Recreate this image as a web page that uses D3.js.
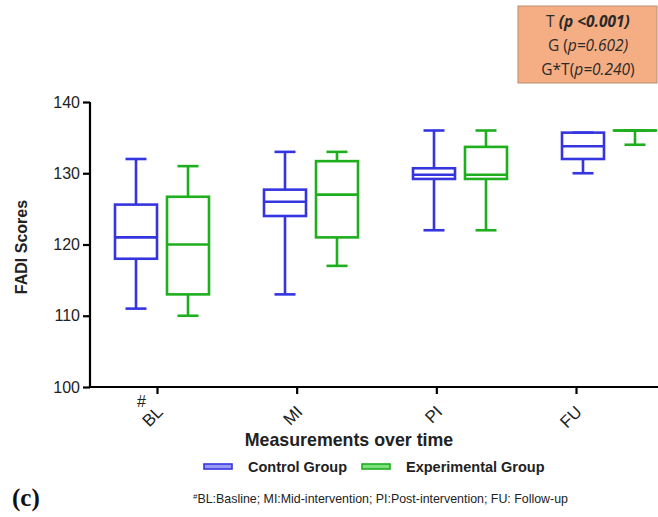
<!DOCTYPE html>
<html>
<head>
<meta charset="utf-8">
<script src="https://cdn.jsdelivr.net/npm/d3@7/dist/d3.min.js"></script>
<style>
  html, body { margin: 0; padding: 0; background: #fff; }
  svg { display: block; font-family: Arial, "Liberation Sans", sans-serif; }
</style>
</head>
<body>
<svg id="chart" width="658" height="517"></svg>
<script>
// Time points and group labels
const timepoints = ["BL", "MI", "PI", "FU"];
const groups = ["Control Group", "Experimental Group"];
const groupColors = ["#3535e0", "#1eae1e"];
const groupFills = ["#9a9af5", "#7fe07f"];

// Box summaries per time point: [min, q1, median, q3, max]
const controlStats = [
  [111, 118, 121, 125.6, 132],
  [113, 124, 126, 127.7, 133],
  [122, 129.2, 129.8, 130.7, 136],
  [130, 132, 133.8, 135.7, 135.7]
];
const experimentalStats = [
  [110, 113, 120, 126.7, 131],
  [117, 121, 127, 131.7, 133],
  [122, 129.2, 129.8, 133.7, 136],
  [134, 136, 136, 136, 136]
];
const seriesStats = [controlStats, experimentalStats];

const yTicks = [100, 110, 120, 130, 140];
const footnote = "BL:Basline; MI:Mid-intervention; PI:Post-intervention; FU: Follow-up";

const svg = d3.select("#chart");

const y = d3.scaleLinear().domain([100, 140]).range([387, 102]);
// tick positions on the time axis
const xTick = d3.scalePoint().domain(timepoints).range([157, 576]);
// centres of the box pairs
const xGroup = d3.scalePoint().domain(timepoints).range([162, 609]);
const xSub = d3.scaleBand().domain(groups).range([-52, 52]).paddingInner(0);

const boxW = 42, capW = 21;

// annotation panel with p-values
const ann = svg.append("g");
ann.append("rect").attr("x", 518).attr("y", 6).attr("width", 139).attr("height", 77)
  .attr("fill", "#f5ae84").attr("stroke", "#b88c6c").attr("stroke-width", 1);
const annFont = "'Open Sans', 'Liberation Sans', sans-serif";
const annLine = (yy) => ann.append("text").attr("x", 588).attr("y", yy).attr("text-anchor", "middle")
  .attr("font-family", annFont).attr("font-size", 15.5).attr("fill", "#2a2a2a");
const l1 = annLine(27);
l1.append("tspan").text("T ");
l1.append("tspan").attr("font-weight", "bold").attr("font-style", "italic").text("(p <0.001)");
const l2 = annLine(51);
l2.append("tspan").text("G (");
l2.append("tspan").attr("font-style", "italic").text("p=0.602)");
const l3 = annLine(75);
l3.append("tspan").text("G*T(");
l3.append("tspan").attr("font-style", "italic").text("p=0.240");
l3.append("tspan").text(")");

// boxes
groups.forEach((g, gi) => {
  const color = groupColors[gi];
  const layer = svg.append("g").attr("stroke", color).attr("fill", "none").attr("stroke-width", 2.6);
  seriesStats[gi].forEach((s, i) => {
    const cx = xGroup(timepoints[i]) + xSub(g) + xSub.bandwidth() / 2;
    const [mn, q1, md, q3, mx] = s;
    layer.append("line").attr("x1", cx).attr("x2", cx).attr("y1", y(mx)).attr("y2", y(q3));
    layer.append("line").attr("x1", cx).attr("x2", cx).attr("y1", y(q1)).attr("y2", y(mn));
    layer.append("line").attr("x1", cx - capW / 2).attr("x2", cx + capW / 2).attr("y1", y(mx)).attr("y2", y(mx));
    layer.append("line").attr("x1", cx - capW / 2).attr("x2", cx + capW / 2).attr("y1", y(mn)).attr("y2", y(mn));
    layer.append("rect").attr("x", cx - boxW / 2).attr("y", y(q3)).attr("width", boxW)
      .attr("height", Math.max(0.01, y(q1) - y(q3)));
    layer.append("line").attr("x1", cx - boxW / 2).attr("x2", cx + boxW / 2).attr("y1", y(md)).attr("y2", y(md));
  });
});

// y axis
const yAxis = svg.append("g").attr("transform", "translate(90,0)")
  .call(d3.axisLeft(y).tickValues(yTicks).tickSize(7).tickPadding(3));
yAxis.select(".domain").attr("stroke", "#000").attr("stroke-width", 2.2).attr("d", "M0,102V387");
yAxis.selectAll(".tick line").attr("stroke", "#000").attr("stroke-width", 2.2);
yAxis.selectAll(".tick text").attr("font-size", 16).attr("fill", "#222").attr("font-family", "Arial, 'Liberation Sans', sans-serif");

// x axis
const xAxis = svg.append("g").attr("transform", "translate(0,387)")
  .call(d3.axisBottom(xTick).tickSize(7).tickFormat(""));
xAxis.select(".domain").attr("stroke", "#000").attr("stroke-width", 2.2).attr("d", "M90,0H658");
xAxis.selectAll(".tick line").attr("stroke", "#000").attr("stroke-width", 2.2);
timepoints.forEach(t => {
  svg.append("text")
    .attr("transform", `translate(${xTick(t) + 7},${413}) rotate(-45)`)
    .attr("text-anchor", "end").attr("font-size", 17).attr("fill", "#222").text(t);
});
svg.append("text").attr("x", 137).attr("y", 407).attr("font-size", 16).attr("fill", "#222").text("#");

// axis titles
svg.append("text").attr("transform", "translate(27,247) rotate(-90)").attr("text-anchor", "middle")
  .attr("font-size", 16).attr("font-weight", "bold").attr("fill", "#222").text("FADI Scores");
svg.append("text").attr("x", 349).attr("y", 446).attr("text-anchor", "middle")
  .attr("font-size", 17.8).attr("font-weight", "bold").attr("fill", "#222").text("Measurements over time");

// legend
const legX = [204, 362];
groups.forEach((g, gi) => {
  svg.append("rect").attr("x", legX[gi]).attr("y", 464).attr("width", 28).attr("height", 5)
    .attr("fill", groupFills[gi]).attr("stroke", groupColors[gi]).attr("stroke-width", 1.6);
  svg.append("text").attr("x", legX[gi] + 44).attr("y", 472)
    .attr("font-size", 14.5).attr("font-weight", "bold").attr("fill", "#222").text(g);
});

// footnote
const fn = svg.append("text").attr("x", 193).attr("y", 503).attr("font-size", 12.4).attr("fill", "#222");
fn.append("tspan").attr("font-size", 8).attr("dy", -4).text("#");
fn.append("tspan").attr("dy", 4).text(footnote);

// panel letter
svg.append("text").attr("x", 12).attr("y", 506).attr("font-family", "'Liberation Serif', 'DejaVu Serif', serif")
  .attr("font-size", 25).attr("font-weight", "bold").attr("fill", "#111").text("(c)");
</script>
</body>
</html>
